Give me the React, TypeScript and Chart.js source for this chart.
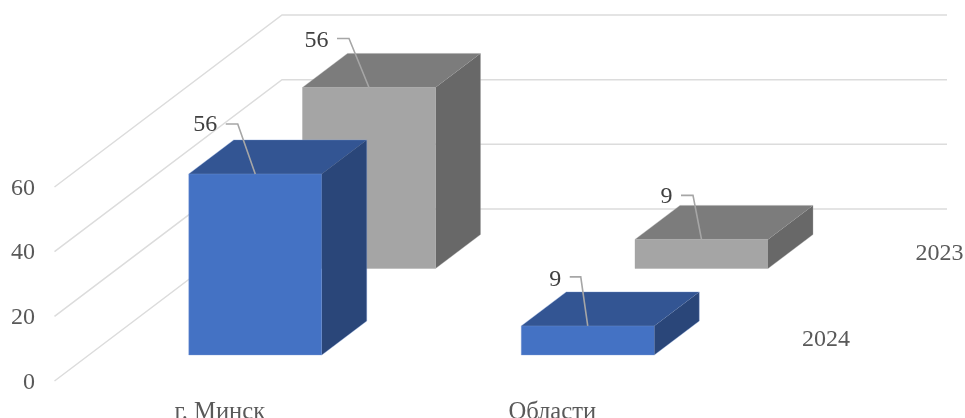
import React, { useEffect, useRef } from "react";
import { Chart, registerables, BarController } from "chart.js";

Chart.register(...registerables);

const categories = ["г. Минск", "Области"];
const series2024 = [56, 9];
const series2023 = [56, 9];
const seriesNames = ["2024", "2023"];
const yTicks = [0, 20, 40, 60];

const FONT = "'Liberation Serif', serif";
const FONT_SIZE = 24;

// Perspective layout (pixels on the picture)
const GRID = { left: 54.5, cornerDx: 227.5, cornerDy: -172, right: 947 };
const BOX_DEPTH = { dx: 45, dy: -34 };

const STYLE_2024 = { front: "#4472C4", top: "#335593", side: "#2A4679", edge: "#7F9FD8" };
const STYLE_2023 = { front: "#A5A5A5", top: "#7C7C7C", side: "#686868", edge: "#A0A0A0" };

class Box3DController extends BarController {
  static id = "box3d";
  draw() {
    const ds: any = this.getDataset();
    const ctx = this.chart.ctx;
    const st = ds.box3d;
    const w = BOX_DEPTH.dx;
    const h = BOX_DEPTH.dy;
    for (const el of this._cachedMeta.data as any[]) {
      const half = el.width / 2;
      const l = el.x + st.shiftX - half;
      const r = el.x + st.shiftX + half;
      const t = el.y + st.shiftY;
      const b = el.base + st.shiftY;
      const face = (pts: number[][], fill: string) => {
        ctx.beginPath();
        pts.forEach((p, i) => (i ? ctx.lineTo(p[0], p[1]) : ctx.moveTo(p[0], p[1])));
        ctx.closePath();
        ctx.fillStyle = fill;
        ctx.fill();
      };
      ctx.save();
      face([[r, t], [r + w, t + h], [r + w, b + h], [r, b]], st.side);
      face([[l, t], [l + w, t + h], [r + w, t + h], [r, t]], st.top);
      face([[l, t], [r, t], [r, b], [l, b]], st.front);
      ctx.strokeStyle = st.edge;
      ctx.lineWidth = 0.5;
      ctx.globalAlpha = 0.7;
      ctx.beginPath();
      ctx.moveTo(l, b);
      ctx.lineTo(l, t);
      ctx.lineTo(l + w, t + h);
      ctx.lineTo(r + w, t + h);
      ctx.lineTo(r + w, b + h);
      ctx.lineTo(r, b);
      ctx.lineTo(l, b);
      ctx.moveTo(l, t);
      ctx.lineTo(r, t);
      ctx.stroke();
      ctx.restore();
    }
  }
}
Chart.register(Box3DController as any);

const wallsPlugin = {
  id: "walls",
  beforeDatasetsDraw(chart: any) {
    const { ctx, scales } = chart;
    ctx.save();
    ctx.strokeStyle = "#DCDCDC";
    ctx.lineWidth = 1.5;
    for (const v of yTicks) {
      const y = scales.y.getPixelForValue(v);
      ctx.beginPath();
      ctx.moveTo(GRID.left, y);
      ctx.lineTo(GRID.left + GRID.cornerDx, y + GRID.cornerDy);
      ctx.lineTo(GRID.right, y + GRID.cornerDy);
      ctx.stroke();
    }
    ctx.restore();
  },
};

// leader elbow and label gap relative to the top-centre of each box: [datasetIndex][categoryIndex]
const LEADERS = [
  [{ ex: -17.5, ey: -50, sx: -29.5, ly: 0.5 }, { ex: -7, ey: -49, sx: -18, ly: 2.5 }],
  [{ ex: -20, ey: -49, sx: -32, ly: 2 }, { ex: -8.5, ey: -44, sx: -20.5, ly: 1.5 }],
];

const labelsPlugin = {
  id: "labels3d",
  afterDatasetsDraw(chart: any) {
    const { ctx } = chart;
    ctx.save();
    chart.data.datasets.forEach((ds: any, di: number) => {
      const meta = chart.getDatasetMeta(di);
      meta.data.forEach((el: any, i: number) => {
        const L = LEADERS[di][i];
        const cx = el.x + ds.box3d.shiftX;
        const top = el.y + ds.box3d.shiftY;
        ctx.strokeStyle = "#A6A6A6";
        ctx.lineWidth = 1.6;
        ctx.beginPath();
        ctx.moveTo(cx + L.sx, top + L.ey);
        ctx.lineTo(cx + L.ex, top + L.ey);
        ctx.lineTo(cx, top);
        ctx.stroke();
        ctx.fillStyle = "#404040";
        ctx.font = `${FONT_SIZE}px ${FONT}`;
        ctx.textAlign = "right";
        ctx.textBaseline = "middle";
        ctx.fillText(String(ds.data[i]), cx + L.sx - 8.5, top + L.ey + L.ly);
      });
      ctx.fillStyle = "#595959";
      ctx.font = `${FONT_SIZE}px ${FONT}`;
      ctx.textAlign = "center";
      ctx.textBaseline = "middle";
      const last = meta.data[meta.data.length - 1];
      ctx.fillText(ds.label, last.x + ds.box3d.labelX, chart.scales.y.getPixelForValue(0) + ds.box3d.labelY);
    });
    ctx.restore();
  },
};

export default function App() {
  const ref = useRef<HTMLCanvasElement>(null);
  useEffect(() => {
    const chart = new Chart(ref.current as HTMLCanvasElement, {
      type: "box3d" as any,
      data: {
        labels: categories,
        datasets: [
          {
            label: seriesNames[0],
            data: series2024,
            order: 1,
            clip: false,
            backgroundColor: STYLE_2024.front,
            box3d: { ...STYLE_2024, shiftX: 36.5, shiftY: -26, labelX: 274.75, labelY: -41.5 },
          } as any,
          {
            label: seriesNames[1],
            data: series2023,
            order: 2,
            clip: false,
            backgroundColor: STYLE_2023.front,
            box3d: { ...STYLE_2023, shiftX: 150.25, shiftY: -112.5, labelX: 388.25, labelY: -127.5 },
          } as any,
        ],
      },
      options: {
        responsive: false,
        animation: false,
        layout: { padding: { top: 187, bottom: 0, left: 0, right: 247.5 } },
        datasets: { box3d: { grouped: false, categoryPercentage: 1, barPercentage: 0.4 } } as any,
        plugins: { legend: { display: false }, tooltip: { enabled: false }, title: { display: false } },
        scales: {
          x: {
            type: "category",
            grid: { display: false, drawTicks: false },
            border: { display: false },
            afterFit: (s: any) => {
              s.height = 37;
            },
            ticks: {
              padding: 16.5,
              labelOffset: 1,
              autoSkip: false,
              maxRotation: 0,
              color: "#595959",
              font: { family: FONT, size: 24.6 },
            },
          },
          y: {
            type: "linear",
            min: 0,
            max: 60,
            grid: { display: false, drawTicks: false },
            border: { display: false },
            afterFit: (s: any) => {
              s.width = 52.5;
            },
            ticks: {
              stepSize: 20,
              padding: 17.5,
              labelOffset: 1.5,
              color: "#595959",
              font: { family: FONT, size: FONT_SIZE },
            },
          },
        },
      } as any,
      plugins: [wallsPlugin, labelsPlugin],
    });
    return () => chart.destroy();
  }, []);
  return (
    <div style={{ position: "fixed", left: 0, top: 0, width: 965, height: 418, background: "#fff" }}>
      <canvas ref={ref} width={965} height={418} style={{ display: "block" }} />
    </div>
  );
}
